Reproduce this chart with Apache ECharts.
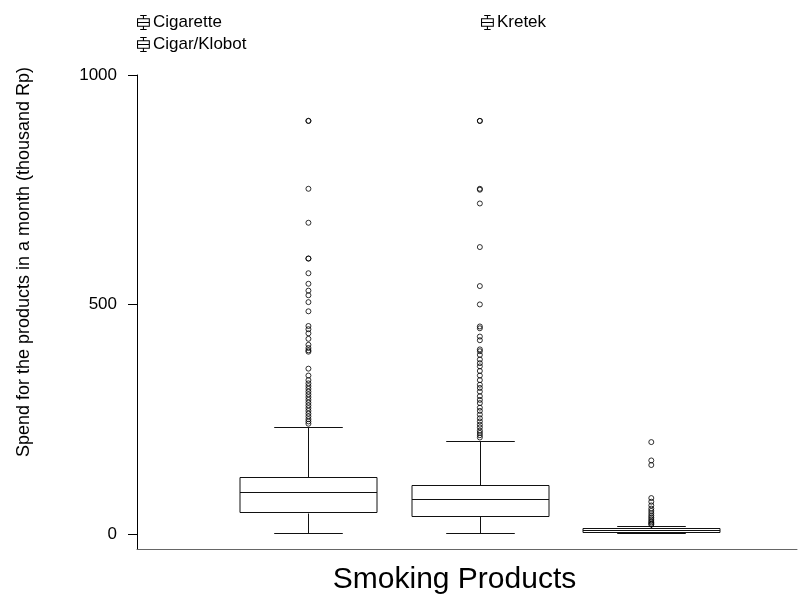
<!DOCTYPE html>
<html>
<head>
<meta charset="utf-8">
<title>Smoking Products</title>
<script src="https://cdn.jsdelivr.net/npm/echarts@6/dist/echarts.min.js"></script>
<style>
  html, body { margin: 0; padding: 0; background: #fff; }
  #chart { width: 812px; height: 600px; }
</style>
</head>
<body>
<div id="chart"></div>
<script>
// Product groups, in drawing order along the x axis (positions 1, 2, 3)
const categories = ['Cigarette', 'Kretek', 'Cigar/Klobot'];

// Five-number summaries: [lower whisker, Q1, median, Q3, upper whisker]
const cigaretteBox = [2, 46, 92, 123, 232];
const kretekBox = [2, 39, 77, 106, 203];
const cigarBox = [2, 5, 8, 13, 18];

// Outlying monthly spends (thousand Rp)
const cigaretteOutliers = [900, 900, 752, 678, 600, 600, 568, 545, 530, 520, 505, 485,
  453, 446, 437, 425, 412, 405, 400, 397, 360, 345, 335, 328, 322, 316, 310, 304,
  298, 292, 286, 280, 274, 268, 262, 256, 250, 245, 240];
const kretekOutliers = [900, 900, 752, 750, 720, 625, 540, 500, 452, 448, 430, 422,
  402, 398, 390, 380, 372, 365, 355, 345, 335, 325, 318, 310, 300, 292, 285, 275,
  268, 260, 252, 245, 238, 232, 225, 220, 215, 210];
const cigarOutliers = [200, 160, 150, 78, 70, 62, 55, 50, 45, 40, 36, 32, 28, 25, 22, 20];

const yTicks = [0, 500, 1000];

const boxes = [cigaretteBox, kretekBox, cigarBox];
const outliers = [cigaretteOutliers, kretekOutliers, cigarOutliers];

const FONT = '"Liberation Sans", Arial, Helvetica, sans-serif';

// small box-and-whisker glyph used as the legend marker
const boxIcon = 'path://M3,0H9V1H3Z M5.5,1H6.5V3H5.5Z M0,3H12V11H0Z M1,4V10H11V4Z ' +
  'M1,6.5H11V7.5H1Z M5.5,11H6.5V13H5.5Z M3,13H9V14H3Z';

// draws one box with half-width whisker caps
function renderBox(params, api) {
  const x = api.value(0);
  const lo = api.coord([x, api.value(1)]);
  const q1 = api.coord([x, api.value(2)]);
  const med = api.coord([x, api.value(3)]);
  const q3 = api.coord([x, api.value(4)]);
  const hi = api.coord([x, api.value(5)]);
  const half = api.size([0.8, 0])[0] / 2;
  const cap = half / 2;
  const cx = Math.round(lo[0]) + 0.5;
  const r = v => Math.round(v) + 0.5;
  const line = { stroke: '#111', lineWidth: 1, fill: null };
  return {
    type: 'group',
    children: [
      { type: 'line', shape: { x1: cx, y1: r(hi[1]), x2: cx, y2: r(q3[1]) }, style: line },
      { type: 'line', shape: { x1: cx - cap, y1: r(hi[1]), x2: cx + cap, y2: r(hi[1]) }, style: line },
      { type: 'line', shape: { x1: cx, y1: r(q1[1]), x2: cx, y2: r(lo[1]) }, style: line },
      { type: 'line', shape: { x1: cx - cap, y1: r(lo[1]), x2: cx + cap, y2: r(lo[1]) }, style: line },
      { type: 'rect', shape: { x: Math.round(cx - half), y: r(q3[1]), width: Math.round(2 * half), height: Math.round(q1[1] - q3[1]) },
        style: { stroke: '#111', lineWidth: 1, fill: '#fff' } },
      { type: 'line', shape: { x1: Math.round(cx - half), y1: r(med[1]), x2: Math.round(cx + half), y2: r(med[1]) }, style: line }
    ]
  };
}

const series = [];
categories.forEach((name, i) => {
  series.push({
    name: name,
    type: 'custom',
    renderItem: renderBox,
    itemStyle: { color: '#000' },
    encode: { x: 0, y: [1, 2, 3, 4, 5] },
    data: [[i + 1].concat(boxes[i])],
    z: 2
  });
  series.push({
    name: name,
    type: 'scatter',
    symbol: 'circle',
    symbolSize: 5,
    itemStyle: { color: 'rgba(0,0,0,0)', borderColor: '#000', borderWidth: 1 },
    data: outliers[i].map(v => [i + 1, v]),
    z: 3
  });
});

const legendBase = {
  icon: boxIcon,
  itemWidth: 13,
  itemHeight: 15,
  itemGap: 5,
  padding: 0,
  top: 14,
  itemStyle: { color: '#000', borderWidth: 0 },
  textStyle: { fontFamily: FONT, fontSize: 17, color: '#000', lineHeight: 17, padding: [0, 0, 0, -2] },
  selectedMode: false
};

const chart = echarts.init(document.getElementById('chart'), null, { renderer: 'canvas' });
chart.setOption({
  animation: false,
  backgroundColor: '#fff',
  textStyle: { fontFamily: FONT },
  legend: [
    Object.assign({}, legendBase, { left: 137, orient: 'vertical', data: [categories[0], categories[2]] }),
    Object.assign({}, legendBase, { left: 481, orient: 'horizontal', data: [categories[1]] })
  ],
  grid: { left: 137, right: 15, top: 75, bottom: 51, containLabel: false },
  xAxis: {
    type: 'value',
    min: 0,
    max: 3.85,
    axisLine: { show: true, onZero: false, lineStyle: { color: '#666', width: 1 } },
    axisTick: { show: false },
    axisLabel: { show: false },
    splitLine: { show: false },
    name: 'Smoking Products',
    nameLocation: 'middle',
    nameGap: 16,
    nameTextStyle: { fontFamily: FONT, fontSize: 30, color: '#000', padding: [0, 25, 0, 0] }
  },
  yAxis: {
    type: 'value',
    min: -33,
    max: 1000,
    axisLine: { show: true, onZero: false, lineStyle: { color: '#000', width: 1 } },
    axisTick: { show: true, length: 9, customValues: yTicks, lineStyle: { color: '#000' } },
    axisLabel: { show: true, margin: 20, fontSize: 17, color: '#000', fontFamily: FONT,
      customValues: yTicks, formatter: v => String(v) },
    splitLine: { show: false },
    name: 'Spend for the products in a month (thousand Rp)',
    nameLocation: 'middle',
    nameGap: 104,
    nameTextStyle: { fontFamily: FONT, fontSize: 18, color: '#000', padding: [0, 0, 0, 100] }
  },
  series: series
});
</script>
</body>
</html>
